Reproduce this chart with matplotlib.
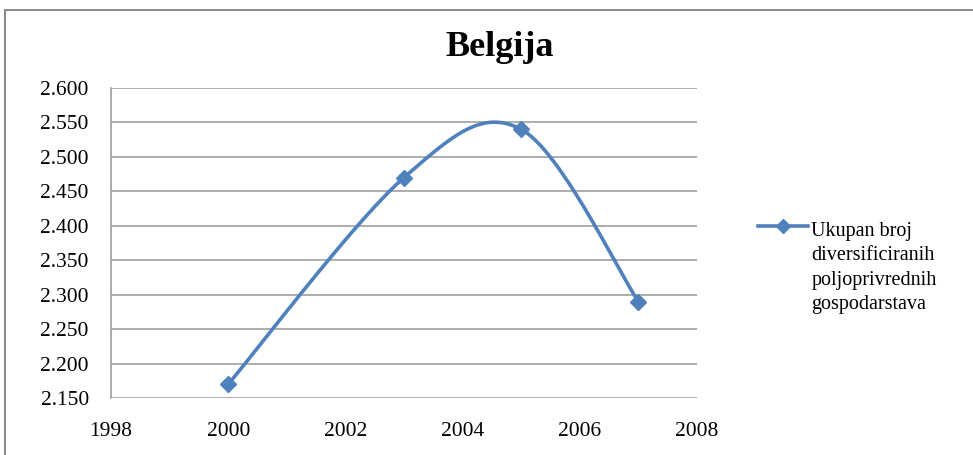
import numpy as np
import matplotlib
matplotlib.use("Agg")
import matplotlib.pyplot as plt
from matplotlib.lines import Line2D
from matplotlib.legend_handler import HandlerLine2D
from matplotlib.ticker import FuncFormatter

plt.rcParams['font.family'] = ['Liberation Serif', 'DejaVu Serif']

title = "Belgija"
series_label = "Ukupan broj\ndiversificiranih\npoljoprivrednih\ngospodarstava"
years = [2000, 2003, 2005, 2007]
values = [2170, 2470, 2540, 2290]
y_ticks = [2150, 2200, 2250, 2300, 2350, 2400, 2450, 2500, 2550, 2600]
x_ticks = [1998, 2000, 2002, 2004, 2006, 2008]

color = '#4F81BD'
grid_color = '#A0A0A0'


def excel_smooth(xs, ys, n=60):
    """Bezier smoothing similar to spreadsheet 'smoothed line'."""
    P = np.column_stack([xs, ys]).astype(float)
    m = len(P)
    out = []
    t = np.linspace(0, 1, n)[:, None]
    for i in range(m - 1):
        p0 = P[i - 1] if i > 0 else P[i]
        p1 = P[i]
        p2 = P[i + 1]
        p3 = P[i + 2] if i + 2 < m else P[i + 1]
        c1 = p1 + (p2 - p0) / 6.0
        c2 = p2 - (p3 - p1) / 6.0
        seg = ((1 - t) ** 3) * p1 + 3 * ((1 - t) ** 2) * t * c1 + 3 * (1 - t) * t ** 2 * c2 + t ** 3 * p2
        out.append(seg if i == 0 else seg[1:])
    out = np.vstack(out)
    return out[:, 0], out[:, 1]


fig = plt.figure(figsize=(9.73, 4.55), dpi=100)
ax = fig.add_axes([111 / 973, 57 / 455, 586 / 973, 310 / 455])

sx, sy = excel_smooth(years, values)
ax.plot(sx, sy, color=color, lw=2.6, solid_capstyle='round', zorder=3)
ax.plot(years, values, linestyle='none', marker='D', ms=8, color=color, zorder=4)

ax.set_xlim(1998, 2008)
ax.set_ylim(2150, 2600)
ax.set_xticks(x_ticks)
ax.set_yticks(y_ticks)
ax.yaxis.set_major_formatter(FuncFormatter(lambda v, p: f"{v:,.0f}".replace(',', '.')))
ax.tick_params(axis='both', length=0, labelsize=15.5)
ax.tick_params(axis='y', pad=16)
ax.tick_params(axis='x', pad=17)
ax.grid(axis='y', color=grid_color, lw=1.2)
ax.set_axisbelow(True)
for s in ['top', 'right', 'bottom']:
    ax.spines[s].set_visible(False)
ax.spines['left'].set_color(grid_color)
ax.spines['left'].set_linewidth(1.2)
ax.spines['left'].set_zorder(0)

fig.text(500 / 973, 1 - 48 / 455, title, ha='center', va='center',
         fontsize=26, fontweight='bold')

LINESP = 1.38


class TopHandler(HandlerLine2D):
    def create_artists(self, legend, orig_handle, xdescent, ydescent, width,
                       height, fontsize, trans):
        arts = super().create_artists(legend, orig_handle, xdescent, ydescent,
                                      width, height, fontsize, trans)
        off = 1.5 * LINESP * fontsize
        for a in arts:
            yd = np.asarray(a.get_ydata(), dtype=float)
            a.set_ydata(yd + off)
        return arts


handle = Line2D([], [], color=color, lw=2.6, marker='D', ms=7)
leg = fig.legend([handle], [series_label], loc='center left',
                 bbox_to_anchor=(740 / 973, 1 - 268 / 455), frameon=False,
                 fontsize=14.5, handlelength=2.5, handletextpad=0.15,
                 handler_map={Line2D: TopHandler(numpoints=1)})
for t in leg.get_texts():
    t.set_linespacing(LINESP)

# outer chart border
fig.add_artist(Line2D([5 / 973, 1.0], [1 - 10 / 455, 1 - 10 / 455],
                      transform=fig.transFigure, color='#8C8C8C', lw=1.5))
fig.add_artist(Line2D([5 / 973, 5 / 973], [0, 1 - 10 / 455],
                      transform=fig.transFigure, color='#8C8C8C', lw=1.5))

fig.savefig("out.png", dpi=100)
